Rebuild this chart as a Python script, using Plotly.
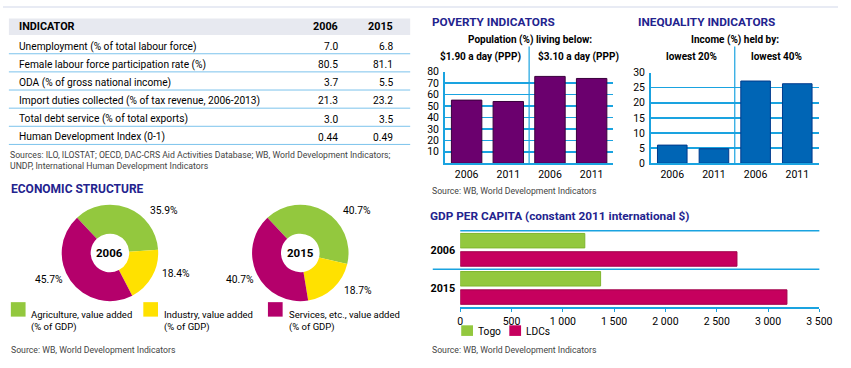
import plotly.graph_objects as go

W, H = 851, 368


def px(x):
    return x / W


def py(y):
    return 1 - y / H


# ---------------- data ----------------
table_header = ["INDICATOR", "2006", "2015"]
table_indicators = [
    "Unemployment (% of total labour force)",
    "Female labour force participation rate (%)",
    "ODA (% of gross national income)",
    "Import duties collected (% of tax revenue, 2006-2013)",
    "Total debt service (% of total exports)",
    "Human Development Index (0-1)",
]
table_2006 = ["7.0", "80.5", "3.7", "21.3", "3.0", "0.44"]
table_2015 = ["6.8", "81.1", "5.5", "23.2", "3.5", "0.49"]

econ_labels = [
    "Agriculture, value added<br>(% of GDP)",
    "Industry, value added<br>(% of GDP)",
    "Services, etc., value added<br>(% of GDP)",
]
econ_years = ["2006", "2015"]
econ_2006 = [35.9, 18.4, 45.7]
econ_2015 = [40.7, 18.7, 40.7]

poverty_groups = ["$1.90 a day (PPP)", "$3.10 a day (PPP)"]
poverty_years = ["2006", "2011", "2006", "2011"]
poverty_values = [55.1, 53.9, 75.8, 74.0]

ineq_groups = ["lowest 20%", "lowest 40%"]
ineq_years = ["2006", "2011", "2006", "2011"]
ineq_values = [6.0, 4.8, 27.2, 26.3]

gdp_years = ["2006", "2015"]
gdp_togo = [1214, 1368]
gdp_ldc = [2697, 3184]
gdp_series = ["Togo", "LDCs"]
gdp_tickvals = [0, 500, 1000, 1500, 2000, 2500, 3000, 3500]
gdp_ticktext = ["0", "500", "1 000", "1 500", "2 000", "2 500", "3 000", "3 500"]

# ---------------- styles ----------------
FONT = "Roboto, Liberation Sans, sans-serif"
TITLE_BLUE = "#23238e"
CYAN = "#1aa3e0"
LINE_BLUE = "#7cc3ec"
GREEN = "#93c83e"
YELLOW = "#ffe100"
MAGENTA = "#b4006b"
LDC_RED = "#c6005e"
PURPLE = "#6b006e"
BLUE = "#0065b5"
SRC_GREY = "#444444"

econ_colors = [GREEN, YELLOW, MAGENTA]

fig = go.Figure()
annotations = []
shapes = []


def text(x, y, s, size=10, color="black", xanchor="left", bold=False):
    if bold:
        s = "<b>" + s + "</b>"
    annotations.append(dict(
        x=px(x), y=py(y), xref="paper", yref="paper", text=s, showarrow=False,
        xanchor=xanchor, yanchor="middle", align="left", borderpad=0,
        font=dict(family=FONT, size=size, color=color),
    ))


def hline(x0, x1, y, color, width=1):
    shapes.append(dict(type="line", xref="paper", yref="paper", x0=px(x0), x1=px(x1),
                       y0=py(y), y1=py(y), line=dict(color=color, width=width)))


def rect(x0, y0, x1, y1, color, layer="below"):
    shapes.append(dict(type="rect", xref="paper", yref="paper", x0=px(x0), x1=px(x1),
                       y0=py(y0), y1=py(y1), fillcolor=color,
                       line=dict(width=0), layer=layer))


# faint top border
hline(0, 851, 1, "#e8ebf4", 2)

# ---------------- table ----------------
rect(6, 13, 415, 30, "#e7e9f0")
text(15, 21.5, table_header[0], size=10.8, bold=True)
text(342, 21.5, table_header[1], size=10.8, bold=True, xanchor="right")
text(398, 21.5, table_header[2], size=10.8, bold=True, xanchor="right")
row_y0, row_step = 42, 18.8
for i, name in enumerate(table_indicators):
    yy = row_y0 + i * row_step
    text(15, yy, name, size=10.2)
    text(342, yy, table_2006[i], size=10.2, xanchor="right")
    text(398, yy, table_2015[i], size=10.2, xanchor="right")
    hline(6, 415, yy + 7.5, LINE_BLUE, 1)
text(6, 154, "Sources: ILO, ILOSTAT; OECD, DAC-CRS Aid Activities Database; WB, World Development Indicators;",
     size=8.7, color=SRC_GREY)
text(6, 166, "UNDP, International Human Development Indicators", size=8.7, color=SRC_GREY)

# ---------------- economic structure ----------------
text(7, 190, "ECONOMIC STRUCTURE", size=12, color=TITLE_BLUE, bold=True)
pie_centers = [(109, 256), (303, 256)]
pie_r = 50
for yr, vals, (cx, cy) in zip(econ_years, [econ_2006, econ_2015], pie_centers):
    fig.add_trace(go.Pie(
        values=vals, labels=econ_labels, sort=False, direction="clockwise", rotation=-43,
        hole=0.4, marker=dict(colors=econ_colors, line=dict(width=0)), textinfo="none",
        showlegend=False, hoverinfo="skip",
        domain=dict(x=[px(cx - pie_r), px(cx + pie_r)], y=[py(cy + pie_r), py(cy - pie_r)]),
    ))
    text(cx, cy, yr, size=11.5, bold=True, xanchor="center")

pct_pos_2006 = [(149, 212, "left"), (161, 277, "left"), (62, 284, "right")]
pct_pos_2015 = [(345, 212, "left"), (347, 295, "left"), (257, 284, "right")]
for vals, pos in [(econ_2006, pct_pos_2006), (econ_2015, pct_pos_2015)]:
    for v, (x, y, xa) in zip(vals, pos):
        text(x, y, f"{v}%", size=10.3, xanchor=xa)

legend_x = [8, 143, 270]
for lab, col, lx in zip(econ_labels, econ_colors, legend_x):
    rect(lx, 307, lx + 15, 322, col)
    text(lx + 20, 327, lab, size=9.5)
text(7, 357, "Source: WB, World Development Indicators", size=8.7, color=SRC_GREY)

# ---------------- poverty ----------------
text(436, 17, "POVERTY INDICATORS", size=11.8, color=TITLE_BLUE, bold=True)
text(537, 35, "Population (%) living below:", size=10, bold=True, xanchor="center")
text(487, 52, poverty_groups[0], size=10, bold=True, xanchor="center")
text(587, 52, poverty_groups[1], size=10, bold=True, xanchor="center")
text(436, 192, "Source: WB, World Development Indicators", size=8.7, color=SRC_GREY)

pov_idx = list(range(len(poverty_values)))
fig.add_trace(go.Bar(
    x=pov_idx, y=poverty_values, width=0.73, marker=dict(color=PURPLE, line=dict(color="#3a003c", width=1)),
    xaxis="x", yaxis="y", showlegend=False, hoverinfo="skip",
))
shapes.append(dict(type="line", xref="x", yref="paper", x0=1.5, x1=1.5, y0=py(163), y1=py(42),
                   line=dict(color=CYAN, width=1.2)))

# ---------------- inequality ----------------
text(646, 17, "INEQUALITY INDICATORS", size=11.8, color=TITLE_BLUE, bold=True)
text(746, 35, "Income (%) held by:", size=10, bold=True, xanchor="center")
text(702, 52, ineq_groups[0], size=10, bold=True, xanchor="center")
text(788, 52, ineq_groups[1], size=10, bold=True, xanchor="center")

ineq_idx = list(range(len(ineq_values)))
fig.add_trace(go.Bar(
    x=ineq_idx, y=ineq_values, width=0.71, marker=dict(color=BLUE, line=dict(color="#003a8c", width=1)),
    xaxis="x2", yaxis="y2", showlegend=False, hoverinfo="skip",
))
shapes.append(dict(type="line", xref="x2", yref="paper", x0=1.5, x1=1.5, y0=py(163), y1=py(42),
                   line=dict(color=CYAN, width=1.2)))

# ---------------- GDP per capita ----------------
text(434, 218, "GDP PER CAPITA (constant 2011 international $)", size=11.8, color=TITLE_BLUE, bold=True)
fig.add_trace(go.Bar(
    y=gdp_years, x=gdp_togo, orientation="h", width=0.38, offset=-0.43, name=gdp_series[0],
    marker=dict(color=GREEN, line=dict(color="#7fb52e", width=1)), xaxis="x3", yaxis="y3",
    showlegend=False, hoverinfo="skip",
))
fig.add_trace(go.Bar(
    y=gdp_years, x=gdp_ldc, orientation="h", width=0.38, offset=0.05, name=gdp_series[1],
    marker=dict(color=LDC_RED, line=dict(color="#a0004a", width=1)), xaxis="x3", yaxis="y3",
    showlegend=False, hoverinfo="skip",
))
hline(466, 832, 233, CYAN, 1.5)
hline(438, 832, 273, CYAN, 1.5)
for lab, col, lx in zip(gdp_series, [GREEN, LDC_RED], [467, 516]):
    rect(lx, 331, lx + 12, 342, col)
    text(lx + 16, 337, lab, size=10.2)
text(436, 357, "Source: WB, World Development Indicators", size=8.7, color=SRC_GREY)

# ---------------- layout ----------------
tickfont = dict(family=FONT, size=10.5, color="black")
fig.update_layout(
    width=W, height=H, margin=dict(l=0, r=0, t=0, b=0),
    paper_bgcolor="white", plot_bgcolor="rgba(0,0,0,0)",
    barmode="overlay", font=dict(family=FONT), hovermode=False,
    annotations=annotations, shapes=shapes,
    xaxis=dict(domain=[px(450), px(622)], range=[-0.53, 3.52], tickvals=pov_idx, ticktext=poverty_years,
               showgrid=False, showline=True, linecolor=CYAN, linewidth=2, tickfont=tickfont,
               ticks="", zeroline=False),
    yaxis=dict(domain=[py(163), py(68)], range=[0, 80], tickvals=list(range(10, 81, 10)),
               showgrid=True, gridcolor=CYAN, gridwidth=1.5, showline=True, linecolor=CYAN, linewidth=1.5,
               tickfont=tickfont, zeroline=False, ticks="", ticklabelstandoff=2),
    xaxis2=dict(domain=[px(660), px(832)], range=[-0.52, 3.53], tickvals=ineq_idx, ticktext=ineq_years,
                showgrid=False, showline=True, linecolor=CYAN, linewidth=2, tickfont=tickfont,
                ticks="", zeroline=False, anchor="y2"),
    yaxis2=dict(domain=[py(163), py(69)], range=[0, 30], tickvals=list(range(0, 31, 5)),
                showgrid=True, gridcolor=CYAN, gridwidth=1.5, showline=True, linecolor=CYAN, linewidth=1.5,
                tickfont=tickfont, zeroline=False, ticks="", anchor="x2", ticklabelstandoff=2),
    xaxis3=dict(domain=[px(466), px(832)], range=[0, 3500], tickvals=gdp_tickvals, ticktext=gdp_ticktext,
                showgrid=False, showline=True, linecolor=CYAN, linewidth=2, tickfont=tickfont,
                ticks="outside", ticklen=3, tickcolor=CYAN, zeroline=False, anchor="y3"),
    yaxis3=dict(domain=[py(312), py(233)], range=[1.5, -0.5], type="category",
                showgrid=False, showline=False,
                tickfont=dict(family=FONT, size=10.8, color="black", weight="bold"),
                ticks="", zeroline=False, anchor="x3", ticklabelstandoff=4),
)

fig.write_html(
    "out.html",
    config={"displayModeBar": False, "staticPlot": True},
    post_script="document.body.style.margin='0px';document.body.style.overflow='hidden';",
)
